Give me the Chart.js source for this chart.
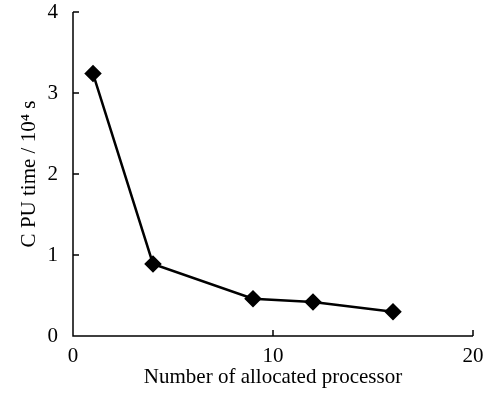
<!DOCTYPE html>
<html><head><meta charset="utf-8">
<script src="https://cdn.jsdelivr.net/npm/chart.js@4/dist/chart.umd.min.js"></script>
<style>html,body{margin:0;padding:0;background:#fff}#w{width:503px;height:393px}</style>
</head><body><div id="w"><canvas id="c"></canvas></div>
<script>
const processors = [1, 4, 9, 12, 16];
const cpuTime = [3.24, 0.89, 0.46, 0.42, 0.30];
const xTicks = [0, 10, 20];
const yTicks = [0, 1, 2, 3, 4];

const innerTicks = {
  id: 'innerTicks',
  afterDraw(chart) {
    const ctx = chart.ctx, x = chart.scales.x, y = chart.scales.y;
    ctx.save();
    ctx.strokeStyle = '#000'; ctx.lineWidth = 1.5;
    ctx.beginPath();
    ctx.moveTo(x.left, y.top); ctx.lineTo(x.left, y.bottom); ctx.lineTo(x.right, y.bottom);
    xTicks.forEach(v => { const p = x.getPixelForValue(v); ctx.moveTo(p, y.bottom); ctx.lineTo(p, y.bottom - 6); });
    yTicks.forEach(v => { const p = y.getPixelForValue(v); ctx.moveTo(x.left, p); ctx.lineTo(x.left + 6, p); });
    ctx.stroke();
    ctx.restore();
  }
};

new Chart(document.getElementById('c'), {
  type: 'scatter',
  data: { datasets: [{
    data: processors.map((p, i) => ({x: p, y: cpuTime[i]})),
    showLine: true, borderColor: '#000', backgroundColor: '#000', borderWidth: 2.5,
    pointStyle: 'rectRot', pointRadius: 7, pointHoverRadius: 7
  }]},
  options: {
    responsive: true, maintainAspectRatio: false, animation: false,
    layout: { padding: { left: 0, right: 30, top: 12, bottom: 0 } },
    plugins: { legend: { display: false }, tooltip: { enabled: false } },
    scales: {
      x: { type: 'linear', min: 0, max: 20,
        afterBuildTicks: s => { s.ticks = xTicks.map(v => ({value: v})); },
        afterFit: s => { s.height = 57; s.paddingLeft = 0; s.paddingRight = 0; },
        grid: { display: false }, border: { display: false },
        ticks: { color: '#000', font: { family: 'Liberation Serif', size: 21 }, padding: 0, maxRotation: 0 },
        title: { display: true, text: 'Number of allocated processor', color: '#000', font: { family: 'Liberation Serif', size: 21 }, padding: { top: 0, bottom: 3 } }
      },
      y: { min: 0, max: 4,
        afterBuildTicks: s => { s.ticks = yTicks.map(v => ({value: v})); },
        afterFit: s => { s.width = 73; s.paddingTop = 0; s.paddingBottom = 0; },
        grid: { display: false }, border: { display: false },
        ticks: { color: '#000', font: { family: 'Liberation Serif', size: 21 }, padding: 7 },
        title: { display: true, text: 'C PU time / 10\u2074 s', color: '#000', font: { family: 'Liberation Serif', size: 21 }, padding: { top: 17, bottom: 0 } }
      }
    }
  },
  plugins: [innerTicks]
});
</script></body></html>
